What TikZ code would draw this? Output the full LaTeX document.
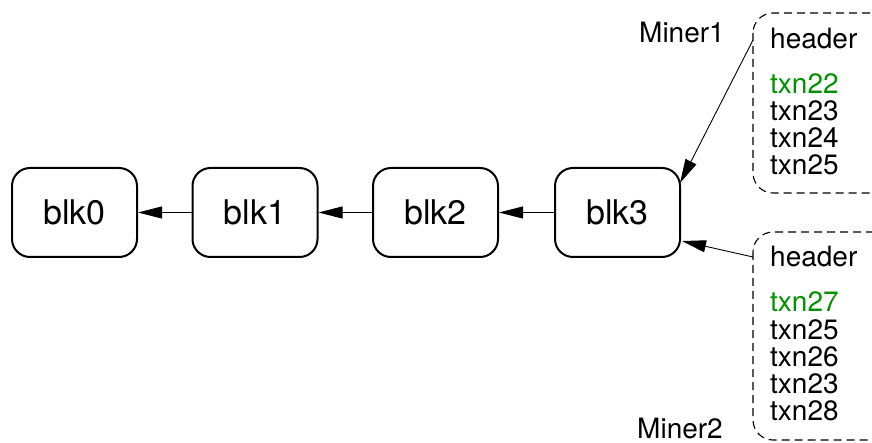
\documentclass[tikz,border=0pt]{standalone}
\usepackage{fontspec}
\setmainfont{TeX Gyre Heros}
\usetikzlibrary{arrows.meta,calc}
\definecolor{txgreen}{RGB}{0,145,0}
\tikzset{
  blkbox/.style={draw, line width=2pt, rounded corners=18pt,
    minimum width=125pt, minimum height=89pt, inner sep=0pt,
    font=\fontsize{34}{40}\selectfont},
  pool/.style={draw, dashed, dash pattern=on 8pt off 5pt, line width=1.1pt,
    rounded corners=20pt},
  item/.style={anchor=base west, inner sep=0pt,
    font=\fontsize{28}{28}\selectfont},
  miner/.style={anchor=base west, inner sep=0pt,
    font=\fontsize{28}{28}\selectfont},
  link/.style={line width=0.9pt, -{Triangle[length=24pt,width=12pt]}}
}
\begin{document}
\begin{tikzpicture}[x=1pt,y=-1pt]
\useasboundingbox (0,0) rectangle (872,443);
\clip (0,0) rectangle (872,443);

% the chain of blocks
\node[blkbox] (blk0) at (74.5,212.5) {blk0};
\node[blkbox] (blk1) at (255,212.5) {blk1};
\node[blkbox] (blk2) at (435.5,212.5) {blk2};
\node[blkbox] (blk3) at (617.5,212.5) {blk3};

\draw[link] (blk1) -- (blk0);
\draw[link] (blk2) -- (blk1);
\draw[link] (blk3) -- (blk2);

% candidate blocks of the two miners
\draw[pool] (753,13) rectangle (895,193);
\draw[pool] (753,232) rectangle (895,440);

\node[item] (h1) at (770,49) {header};
\node[item, text=txgreen] (a1) at (770,94) {txn22};
\node[item] (a2) at (770,121) {txn23};
\node[item] (a3) at (770,148) {txn24};
\node[item] (a4) at (770,175) {txn25};

\node[item] (h2) at (770,267) {header};
\node[item, text=txgreen] (b1) at (770,312) {txn27};
\node[item] (b2) at (770,339) {txn25};
\node[item] (b3) at (770,366) {txn26};
\node[item] (b4) at (770,393) {txn23};
\node[item] (b5) at (770,420) {txn28};

\node[miner] (m1) at (639,43) {Miner1};
\node[miner] (m2) at (637,438) {Miner2};

% pointers from each candidate to its parent block
\coordinate (s1) at (753,40);
\coordinate (s2) at (753,257);
\draw[link] (s1) -- ($(blk3.north east)+(-1,16)$);
\draw[link] (s2) -- ($(blk3.south east)+(1,-17)$);
\end{tikzpicture}
\end{document}
